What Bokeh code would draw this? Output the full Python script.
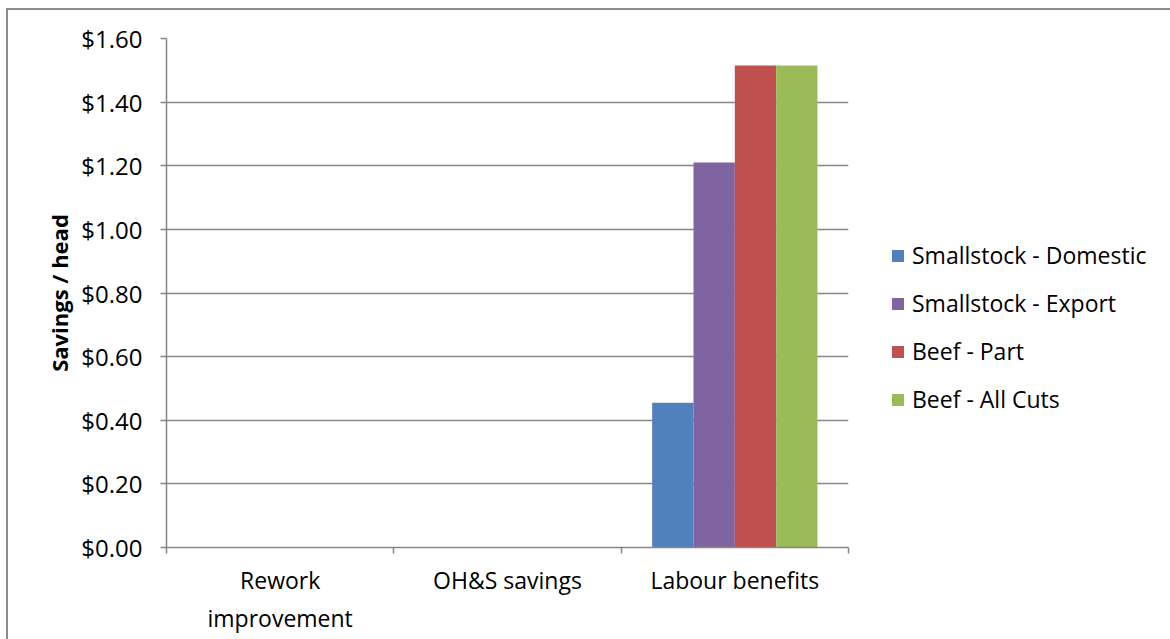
from bokeh.plotting import figure
from bokeh.models import (Range1d, LinearAxis, FixedTicker,
                          NumeralTickFormatter, Legend, LegendItem, ColumnDataSource)
from bokeh.transform import dodge
from bokeh.embed import file_html
from bokeh.resources import INLINE

categories = ["Rework improvement", "OH&S savings", "Labour benefits"]
category_labels = ["Rework\nimprovement", "OH&S savings", "Labour benefits"]
series_names = ["Smallstock - Domestic", "Smallstock - Export", "Beef - Part", "Beef - All Cuts"]
smallstock_domestic = [0.0, 0.0, 0.455]
smallstock_export = [0.0, 0.0, 1.21]
beef_part = [0.0, 0.0, 1.515]
beef_all_cuts = [0.0, 0.0, 1.515]
y_ticks = [0.0, 0.2, 0.4, 0.6, 0.8, 1.0, 1.2, 1.4, 1.6]

colors = ["#4F81BD", "#8064A2", "#C0504D", "#9BBB59"]
FONT = "Open Sans"
GRID = "#868686"

n = len(categories)
centers = [i + 0.5 for i in range(n)]
bounds = [i for i in range(n + 1)]

src = ColumnDataSource(dict(xc=centers, s0=smallstock_domestic, s1=smallstock_export,
                            s2=beef_part, s3=beef_all_cuts))

p = figure(x_range=Range1d(0, n), y_range=Range1d(0, 1.6),
           frame_width=682, frame_height=509, min_border_left=158, min_border_right=322,
           min_border_top=28, min_border_bottom=92, output_backend="svg",
           toolbar_location=None, x_axis_location=None, tools="")
p.outline_line_color = None
p.background_fill_color = "white"
p.border_fill_color = "white"

w = 1 / 5.5
offsets = [-1.5 * w, -0.5 * w, 0.5 * w, 1.5 * w]
items = []
for i, (name, col) in enumerate(zip(series_names, ["s0", "s1", "s2", "s3"])):
    r = p.vbar(x=dodge("xc", offsets[i]), top=col, width=w, bottom=0,
               source=src, fill_color=colors[i], line_color=None)
    items.append(LegendItem(label=name, renderers=[r]))

# y axis
ya = p.yaxis[0]
ya.ticker = FixedTicker(ticks=y_ticks)
ya.formatter = NumeralTickFormatter(format="$0.00")
ya.axis_line_color = GRID
ya.axis_line_width = 1.5
ya.major_tick_line_color = GRID
ya.major_tick_line_width = 1.5
ya.major_tick_out = 6
ya.major_tick_in = 0
ya.minor_tick_line_color = None
ya.major_label_text_font = FONT
ya.major_label_text_font_size = "24px"
ya.major_label_text_color = "#000000"
ya.major_label_standoff = 18
ya.axis_label = "Savings / head"
ya.axis_label_text_font = FONT
ya.axis_label_text_font_style = "bold"
ya.axis_label_text_font_size = "22px"
ya.axis_label_text_color = "#000000"
ya.axis_label_standoff = 4

p.ygrid.ticker = FixedTicker(ticks=y_ticks)
p.ygrid.grid_line_color = GRID
p.ygrid.grid_line_width = 1.5
p.xgrid.grid_line_color = None

# x axis: labels at category centres, tick marks (minor) at category boundaries
xa = LinearAxis(ticker=FixedTicker(ticks=centers, minor_ticks=bounds))
xa.axis_line_color = GRID
xa.axis_line_width = 1.5
xa.major_tick_line_color = None
xa.major_tick_out = 0
xa.major_tick_in = 0
xa.minor_tick_line_color = GRID
xa.minor_tick_line_width = 1.5
xa.minor_tick_out = 6
xa.minor_tick_in = 0
xa.major_label_overrides = dict(zip(centers, category_labels))
xa.major_label_text_font = FONT
xa.major_label_text_font_size = "23px"
xa.major_label_text_color = "#000000"
xa.major_label_standoff = 10
p.add_layout(xa, "below")

legend = Legend(items=items, location=(42, 132), padding=0, margin=0,
                border_line_color=None, background_fill_alpha=0,
                glyph_width=15, glyph_height=15, label_height=24, spacing=16,
                label_standoff=7, label_text_font=FONT, label_text_font_size="23px",
                label_text_color="#000000")
p.add_layout(legend, "right")

p.styles = {"margin-left": "6px", "margin-top": "8px",
            "border-left": "2px solid #8c8c8c", "border-top": "2px solid #8c8c8c"}

open("out.html", "w").write(file_html(p, INLINE))
